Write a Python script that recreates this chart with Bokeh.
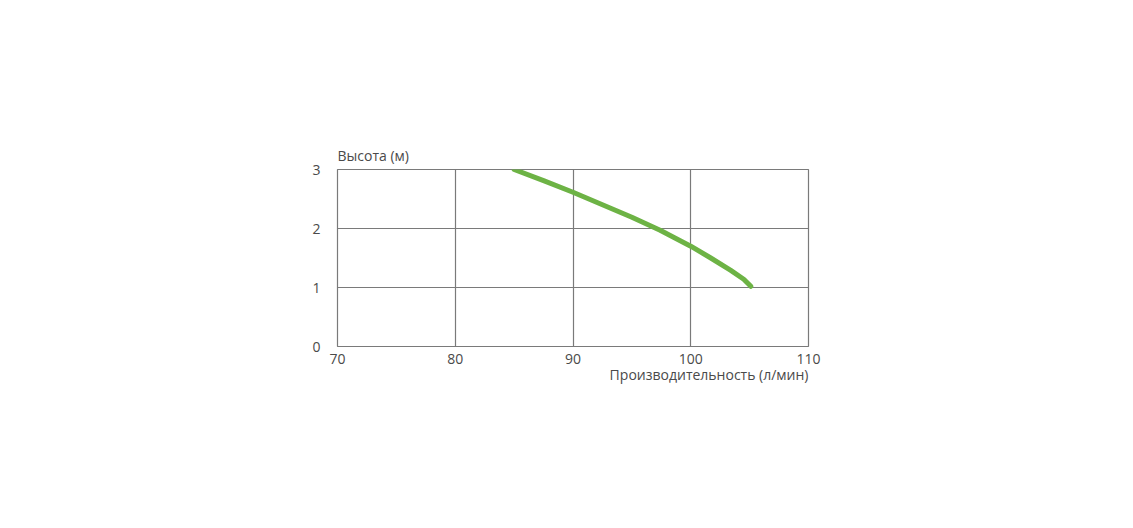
from bokeh.plotting import figure
from bokeh.models import Range1d, FixedTicker, Title
from bokeh.embed import file_html
from bokeh.resources import INLINE

flow = [85, 87.5, 90, 95, 97.4, 100, 101.7, 103.4, 104.5, 105.1]
head = [3.0, 2.81, 2.615, 2.19, 1.97, 1.70, 1.50, 1.29, 1.14, 1.02]
x_ticks = [70, 80, 90, 100, 110]
y_ticks = [0, 1, 2, 3]
x_title = "Производительность (л/мин)"
y_title = "Высота (м)"

FONT = "Open Sans"
TXT = "#4a4a4a"
GRID = "#7a7a7a"

p = figure(width=1125, height=520, output_backend="svg", toolbar_location=None,
           x_range=Range1d(70, 110), y_range=Range1d(0, 3),
           min_border_left=337, min_border_right=317, min_border_top=169, min_border_bottom=174)
p.background_fill_color = "white"
p.border_fill_color = "white"
p.outline_line_color = GRID
p.outline_line_width = 1.2

for ax in (p.xaxis[0], p.yaxis[0]):
    ax.axis_line_color = None
    ax.major_tick_line_color = None
    ax.minor_tick_line_color = None
    ax.major_label_text_font = FONT
    ax.major_label_text_font_size = "14px"
    ax.major_label_text_color = TXT
p.xaxis.ticker = FixedTicker(ticks=x_ticks)
p.yaxis.ticker = FixedTicker(ticks=y_ticks)
p.xaxis.major_label_standoff = 1
p.yaxis.major_label_standoff = 11

p.xgrid.ticker = FixedTicker(ticks=x_ticks)
p.ygrid.ticker = FixedTicker(ticks=y_ticks)
for g in (p.xgrid[0], p.ygrid[0]):
    g.grid_line_color = GRID
    g.grid_line_width = 1.2

p.line(flow, head, line_color="#6db345", line_width=5, line_cap="round", line_join="round")

p.add_layout(Title(text=y_title, align="left", text_font=FONT, text_font_size="14px",
                   text_color=TXT, text_font_style="normal", standoff=10, offset=0), "above")
p.add_layout(Title(text=x_title, align="right", text_font=FONT, text_font_size="14px",
                   text_color=TXT, text_font_style="normal", standoff=-8, offset=0), "below")

open("out.html", "w").write(file_html(p, INLINE))
